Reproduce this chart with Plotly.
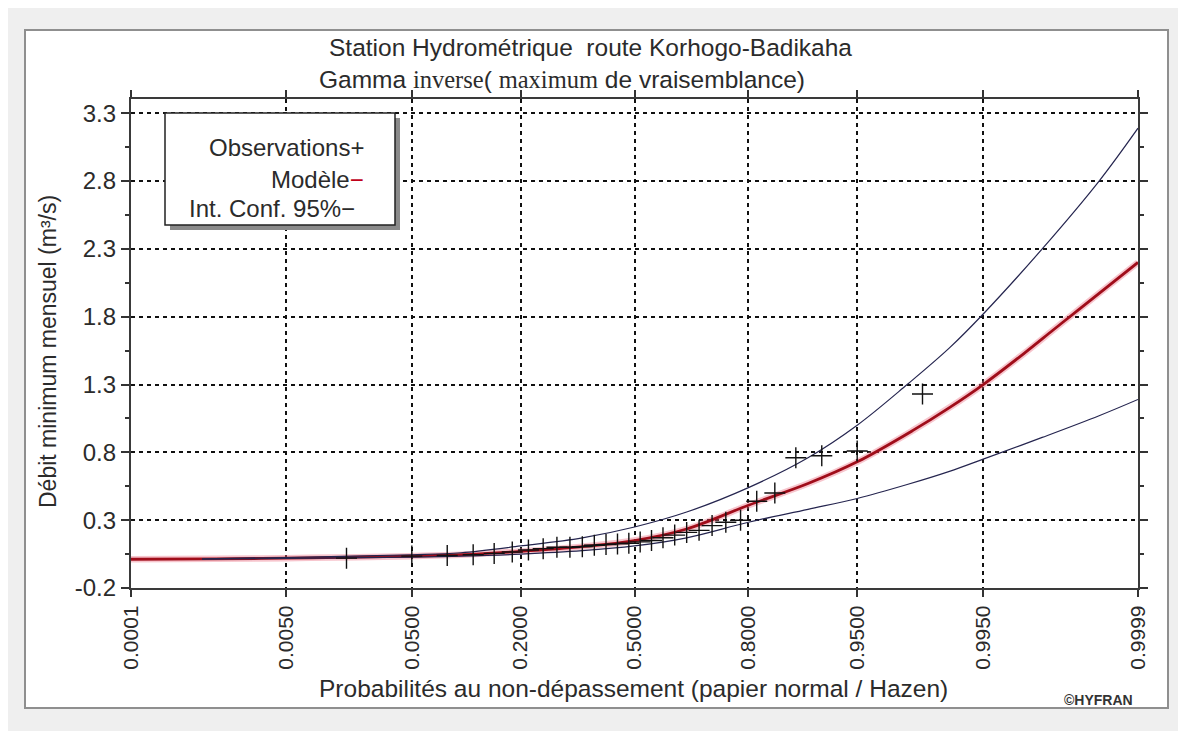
from statistics import NormalDist
import plotly.graph_objects as go

# ---------------- data ----------------
prob_ticks = [0.0001, 0.005, 0.05, 0.2, 0.5, 0.8, 0.95, 0.995, 0.9999]
prob_tick_labels = ["0.0001", "0.0050", "0.0500", "0.2000", "0.5000",
                    "0.8000", "0.9500", "0.9950", "0.9999"]
y_ticks = [-0.2, 0.3, 0.8, 1.3, 1.8, 2.3, 2.8, 3.3]
y_tick_labels = ["-0.2", "0.3", "0.8", "1.3", "1.8", "2.3", "2.8", "3.3"]

obs_prob = [0.0167, 0.05, 0.0833, 0.1167, 0.15, 0.1833, 0.2167, 0.25, 0.2833, 0.3167,
            0.35, 0.3833, 0.4167, 0.45, 0.4833, 0.5167, 0.55, 0.5833, 0.6167, 0.65,
            0.6833, 0.7167, 0.75, 0.7833, 0.8167, 0.85, 0.8833, 0.9167, 0.95, 0.9833]
obs_value = [0.02, 0.035, 0.04, 0.045, 0.055, 0.065, 0.08, 0.09, 0.10, 0.10,
             0.105, 0.115, 0.12, 0.125, 0.13, 0.14, 0.15, 0.17, 0.19, 0.21,
             0.225, 0.26, 0.285, 0.30, 0.44, 0.50, 0.76, 0.775, 0.81, 1.23]

model_prob = [0.0001, 0.001, 0.005, 0.02, 0.05, 0.1, 0.2, 0.35, 0.5, 0.65, 0.8,
              0.9, 0.95, 0.98, 0.99, 0.995, 0.998, 0.999, 0.9995, 0.9999]
model_value = [0.012, 0.015, 0.02, 0.027, 0.035, 0.045, 0.07, 0.105, 0.15, 0.235, 0.41,
               0.57, 0.73, 0.96, 1.13, 1.30, 1.53, 1.70, 1.86, 2.20]

ci_prob = [0.0007, 0.005, 0.05, 0.1, 0.2, 0.35, 0.5, 0.65, 0.8, 0.9, 0.95,
           0.978, 0.99, 0.995, 0.9987, 0.9997, 0.9999]
ci_upper = [0.015, 0.025, 0.045, 0.06, 0.11, 0.17, 0.25, 0.36, 0.54, 0.76, 1.0,
            1.3, 1.57, 1.82, 2.3, 2.8, 3.19]
ci_lower = [0.012, 0.018, 0.028, 0.035, 0.05, 0.075, 0.11, 0.17, 0.285, 0.38, 0.46,
            0.563, 0.66, 0.75, 0.91, 1.07, 1.19]

# -------------- helpers ---------------
nd = NormalDist()
def z(p):
    return nd.inv_cdf(p)

OFF = 8                      # page body margin
W, H = 1186 - OFF, 731 - OFF
L, R, T, B = 131, 1138, 99, 588   # plot area in reference pixels

def px(xp):
    return (xp - L) / (R - L)

def py(yp):
    return (B - yp) / (B - T)

FONT = "Liberation Sans, Arial, sans-serif"
TXT = "#2b2b2b"

fig = go.Figure()

# model halo + model
fig.add_trace(go.Scatter(x=[z(p) for p in model_prob], y=model_value, mode="lines",
                         line=dict(color="rgba(235,110,130,0.40)", width=6.5, shape="spline"),
                         hoverinfo="skip"))
fig.add_trace(go.Scatter(x=[z(p) for p in model_prob], y=model_value, mode="lines",
                         line=dict(color="#a00d1a", width=2.8, shape="spline"),
                         name="Modèle"))
# confidence interval
fig.add_trace(go.Scatter(x=[z(p) for p in ci_prob], y=ci_upper, mode="lines",
                         line=dict(color="#25254f", width=1.2, shape="spline"),
                         name="Int. Conf. 95% sup"))
fig.add_trace(go.Scatter(x=[z(p) for p in ci_prob], y=ci_lower, mode="lines",
                         line=dict(color="#25254f", width=1.2, shape="spline"),
                         name="Int. Conf. 95% inf"))
# observations
fig.add_trace(go.Scatter(x=[z(p) for p in obs_prob], y=obs_value, mode="markers",
                         marker=dict(symbol="cross-thin", size=15,
                                     line=dict(color="#111111", width=1.4)),
                         name="Observations"))

shapes = [
    # white panel with grey frame
    dict(type="rect", xref="paper", yref="paper", layer="below",
         x0=px(25), x1=px(1168), y0=py(708), y1=py(30),
         fillcolor="white", line=dict(color="#8f8f8f", width=2)),
    # legend shadow
    dict(type="rect", xref="paper", yref="paper",
         x0=px(170), x1=px(400), y0=py(230), y1=py(118),
         fillcolor="#8a8a8a", line=dict(width=0)),
    # legend box
    dict(type="rect", xref="paper", yref="paper",
         x0=px(165), x1=px(395), y0=py(225), y1=py(113),
         fillcolor="white", line=dict(color="#222222", width=1.5)),
]

annotations = [
    dict(text="Station Hydrométrique  route Korhogo-Badikaha", x=px(590), y=py(47),
         xref="paper", yref="paper", showarrow=False, xanchor="center", yanchor="middle",
         font=dict(family=FONT, size=24.5, color=TXT)),
    dict(text=("Gamma <span style='font-family:Liberation Serif'>inverse</span>( "
               "<span style='font-family:Liberation Serif'>maximum</span> de vraisemblance)"),
         x=px(562), y=py(80),
         xref="paper", yref="paper", showarrow=False, xanchor="center", yanchor="middle",
         font=dict(family=FONT, size=24.5, color=TXT)),
    dict(text="Observations+", x=px(366), y=py(147), xref="paper", yref="paper",
         showarrow=False, xanchor="right", yanchor="middle",
         font=dict(family=FONT, size=24, color=TXT)),
    dict(text="Modèle<span style='color:#c0001a'>−</span>", x=px(366), y=py(179),
         xref="paper", yref="paper", showarrow=False, xanchor="right", yanchor="middle",
         font=dict(family=FONT, size=24, color=TXT)),
    dict(text="Int. Conf. 95%−", x=px(357), y=py(208), xref="paper", yref="paper",
         showarrow=False, xanchor="right", yanchor="middle",
         font=dict(family=FONT, size=24, color=TXT)),
    dict(text="Débit minimum mensuel (m³/s)", x=px(48), y=py(352), xref="paper",
         yref="paper", showarrow=False, textangle=-90, xanchor="center", yanchor="middle",
         font=dict(family=FONT, size=23, color=TXT)),
    dict(text="Probabilités au non-dépassement (papier normal / Hazen)", x=px(633),
         y=py(688), xref="paper", yref="paper", showarrow=False, xanchor="center",
         yanchor="middle", font=dict(family=FONT, size=24.5, color=TXT)),
    dict(text="<b>©HYFRAN</b>", x=px(1098), y=py(700), xref="paper", yref="paper",
         showarrow=False, xanchor="center", yanchor="middle",
         font=dict(family=FONT, size=14, color="#333333")),
]

fig.update_layout(
    width=W, height=H,
    margin=dict(l=L - OFF, r=1186 - R, t=T - OFF, b=731 - B, autoexpand=False),
    paper_bgcolor="#efefef", plot_bgcolor="white",
    showlegend=False, shapes=shapes, annotations=annotations,
    font=dict(family=FONT, size=22, color=TXT),
)

fig.update_xaxes(
    range=[z(0.0001), z(0.9999)],
    tickmode="array", tickvals=[z(p) for p in prob_ticks], ticktext=prob_tick_labels,
    tickangle=-90, ticks="outside", ticklen=7, tickcolor="#333333", tickwidth=1.5,
    tickfont=dict(family=FONT, size=21, color=TXT),
    showgrid=True, gridcolor="#111111", gridwidth=1.8, griddash="4px,4px",
    showline=True, linecolor="#3a3a3a", linewidth=2.2, mirror="ticks",
    zeroline=False,
)
fig.update_yaxes(
    range=[-0.2, 3.405],
    tickmode="array", tickvals=y_ticks, ticktext=y_tick_labels,
    ticks="outside", ticklen=8, tickcolor="#333333", tickwidth=1.5,
    tickfont=dict(family=FONT, size=24, color=TXT),
    showgrid=True, gridcolor="#111111", gridwidth=1.8, griddash="4px,4px",
    showline=True, linecolor="#3a3a3a", linewidth=2.2, mirror="ticks",
    zeroline=False,
    minor=dict(tickvals=[0.05, 0.55, 1.05, 1.55, 2.05, 2.55, 3.05], ticks="outside",
               ticklen=4, tickcolor="#333333", showgrid=False),
)

fig.write_html("out.html")
